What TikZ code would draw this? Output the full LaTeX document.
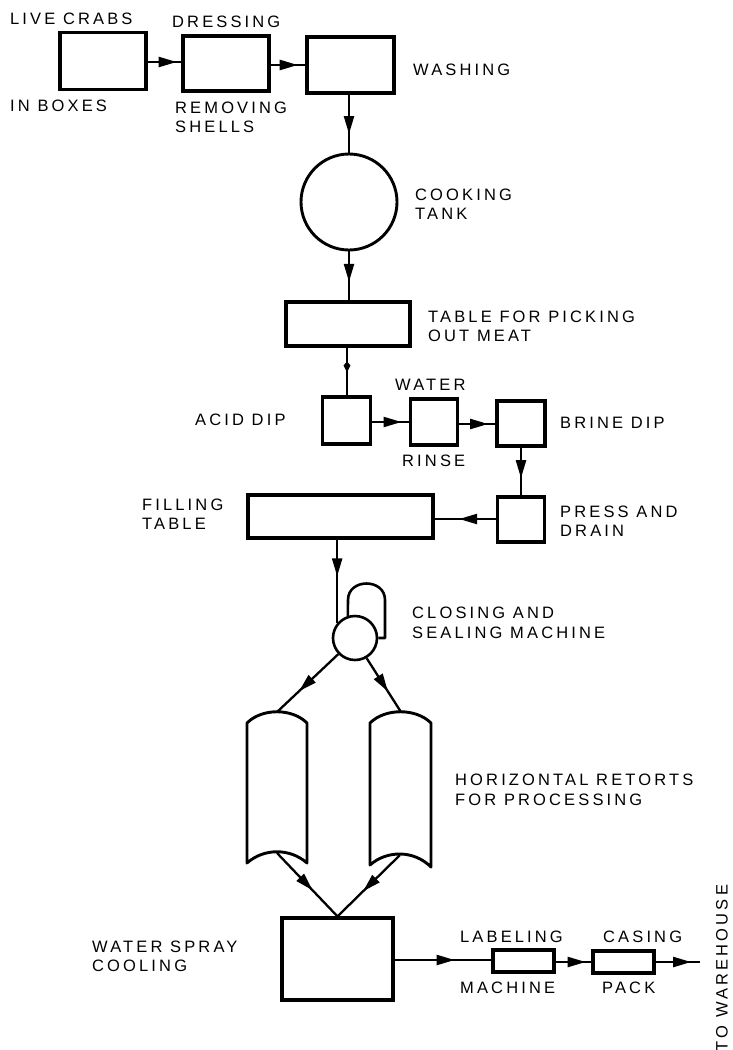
\documentclass[tikz,border=0pt]{standalone}
\usepackage{fontspec}
\setmainfont{Liberation Sans}[LetterSpace=19]
\usetikzlibrary{arrows.meta,decorations.markings}

\tikzset{
  unit/.style={draw, line width=3.2pt, rectangle, inner sep=0pt},
  tank/.style={draw, line width=2.9pt, circle, inner sep=0pt},
  vessel/.style={draw, line width=2.9pt, line join=round},
  lbl/.style={anchor=west, inner sep=0pt, align=left,
    font=\fontsize{16.5}{19}\selectfont},
  flow/.style={line width=2.3pt},
  flowto/.style={flow, decoration={markings,
      mark=at position #1 with {\arrow{Triangle[length=18pt,width=10pt]}}},
    postaction={decorate}},
  flowto/.default=0.6
}

\begin{document}
\begin{tikzpicture}[x=1pt, y=-1pt]
\useasboundingbox (0,0) rectangle (733,1050);

% ---- receiving and preparation ----
\node[unit, minimum width=86pt, minimum height=57pt] (crabs) at (103,61) {};
\node[unit, minimum width=86pt, minimum height=55pt] (dress) at (226,63.5) {};
\node[unit, minimum width=87pt, minimum height=56pt] (wash) at (350.5,65) {};
\node[tank, minimum size=96pt] (cook) at (349,202) {};
\node[unit, minimum width=124pt, minimum height=44pt] (pick) at (348,324) {};

% ---- dipping line ----
\node[unit, minimum width=48pt, minimum height=47pt] (acid) at (346.5,420.5) {};
\node[unit, minimum width=47pt, minimum height=46pt] (rinse) at (434,422) {};
\node[unit, minimum width=48pt, minimum height=45pt] (brine) at (521,423.5) {};
\node[unit, minimum width=47pt, minimum height=45pt] (press) at (521,519.5) {};
\node[unit, minimum width=185pt, minimum height=43pt] (fill) at (340.5,516.5) {};

% ---- closing and sealing machine ----
\node[tank, line width=2.6pt, minimum size=44pt] (seal) at (355,638) {};
\draw[vessel, line width=2.6pt] (seal.108) -- (348,600)
  .. controls (348,578) and (385,578) .. (385,600) -- (385,638) -- (seal.east);

% ---- horizontal retorts ----
\coordinate (rLtop) at (277,712);
\coordinate (rLbot) at (277,853);
\coordinate (rRtop) at (401,712);
\coordinate (rRbot) at (400,855);
\draw[vessel] (247,863) -- (247,723) .. controls (262,708) and (292,708) .. (307,723)
  -- (307,863) .. controls (290,848) and (264,848) .. cycle;
\draw[vessel] (370,865) -- (370,723) .. controls (385,708) and (416,708) .. (431,723)
  -- (431,867) .. controls (414,850) and (387,850) .. cycle;

% ---- cooling, labeling, casing ----
\node[unit, minimum width=111pt, minimum height=82pt] (cool) at (337.5,959) {};
\node[unit, minimum width=61pt, minimum height=22pt] (label) at (523.5,961) {};
\node[unit, minimum width=61pt, minimum height=22pt] (case) at (623.5,962) {};
\coordinate (out) at (700,962);

% ---- connectors ----
\draw[flowto=0.86] (crabs.east |- 0,62) -- (dress.west |- 0,62);
\draw[flowto=0.78] (dress.east |- 0,65) -- (wash.west |- 0,65);
\draw[flowto=0.68] (wash.south -| cook.north) -- (cook.north);
\draw[flowto=0.62] (cook.south) -- (cook.south |- pick.north);
\draw[flow, decoration={markings, mark=at position 0.52 with
    {\arrow{Kite[length=11pt,width=7pt,inset=4pt]}}}, postaction={decorate}]
  (pick.south -| 347,0) -- (acid.north -| 347,0);
\draw[flowto=0.8] (acid.east |- 0,422) -- (rinse.west |- 0,422);
\draw[flowto=0.8] (rinse.east |- 0,424) -- (brine.west |- 0,424);
\draw[flowto=0.64] (brine.south) -- (press.north);
\draw[flowto=0.6] (press.west |- 0,519) -- (fill.east |- 0,519);
\draw[flowto=0.44] (fill.south -| seal.140) -- (seal.140);
\draw[flowto=0.64] (seal.224) -- (rLtop);
\draw[flowto=0.62] (seal.300) -- (rRtop);
\draw[flowto=0.59] (rLbot) -- (cool.north);
\draw[flowto=0.59] (rRbot) -- (cool.north);
\draw[flowto=0.62] (cool.east |- 0,960) -- (label.west |- 0,960);
\draw[flowto=0.84] (label.east |- 0,962) -- (case.west |- 0,962);
\draw[flowto=0.8] (case.east) -- (out);

% ---- labels ----
\node[lbl] (t-crabs) at (10,19) {LIVE CRABS};
\node[lbl] (t-boxes) at (10,106) {IN BOXES};
\node[lbl] (t-dress) at (172,22) {DRESSING};
\node[lbl] (t-shells) at (175,117) {REMOVING\\SHELLS};
\node[lbl] (t-wash) at (413,70) {WASHING};
\node[lbl] (t-cook) at (415,204) {COOKING\\TANK};
\node[lbl] (t-pick) at (428,326) {TABLE FOR PICKING\\OUT MEAT};
\node[lbl] (t-acid) at (195,420) {ACID DIP};
\node[lbl] (t-water) at (395,385) {WATER};
\node[lbl] (t-rinse) at (402,461) {RINSE};
\node[lbl] (t-brine) at (560,423) {BRINE DIP};
\node[lbl] (t-press) at (560,521) {PRESS AND\\DRAIN};
\node[lbl] (t-fill) at (142,514) {FILLING\\TABLE};
\node[lbl, font=\fontsize{16.5}{20}\selectfont] (t-seal) at (412,623) {CLOSING AND\\SEALING MACHINE};
\node[lbl, font=\fontsize{16.5}{20}\selectfont] (t-retort) at (455,790) {HORIZONTAL RETORTS\\FOR PROCESSING};
\node[lbl] (t-cool) at (92,956) {WATER SPRAY\\COOLING};
\node[lbl] (t-label) at (460,937) {LABELING};
\node[lbl] (t-mach) at (460,988) {MACHINE};
\node[lbl] (t-case) at (603,937) {CASING};
\node[lbl] (t-pack) at (602,988) {PACK};
\node[lbl, anchor=center, rotate=90] (t-out) at (722,968) {TO WAREHOUSE};
\end{tikzpicture}
\end{document}
